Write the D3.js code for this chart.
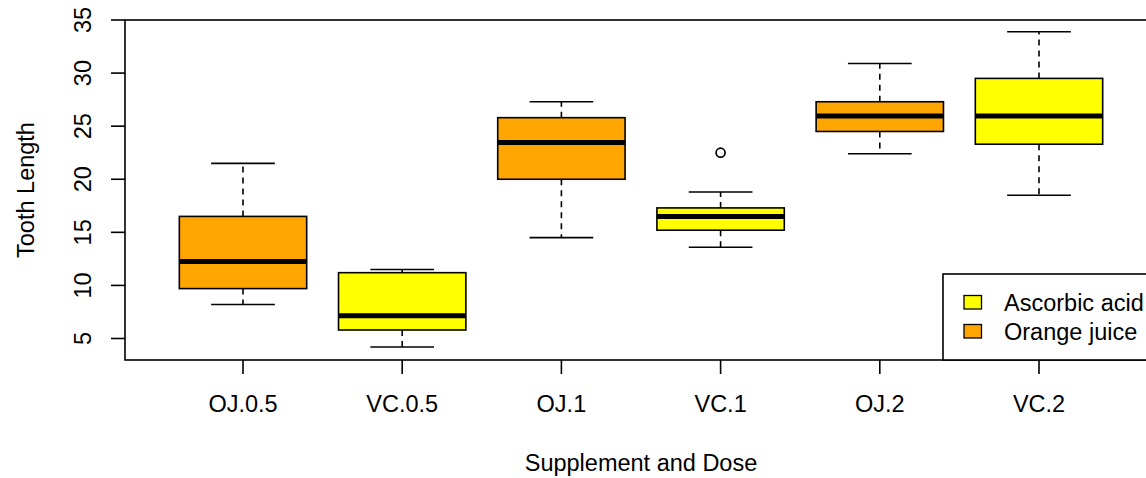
<!DOCTYPE html>
<html>
<head>
<meta charset="utf-8">
<script src="https://cdn.jsdelivr.net/npm/d3@7"></script>
<style>
  body { margin: 0; background: #fff; }
  svg { display: block; font-family: "Liberation Sans", Arial, sans-serif; }
</style>
</head>
<body>
<svg id="chart" width="1146" height="478"></svg>
<script>
// ToothGrowth five-number summaries, one box per group
const groups = ["OJ.0.5", "VC.0.5", "OJ.1", "VC.1", "OJ.2", "VC.2"];
const supp = ["OJ", "VC", "OJ", "VC", "OJ", "VC"];
const lowWhisker = [8.2, 4.2, 14.5, 13.6, 22.4, 18.5];
const lowerHinge = [9.7, 5.8, 20.0, 15.2, 24.5, 23.3];
const medians = [12.25, 7.15, 23.45, 16.5, 25.95, 25.95];
const upperHinge = [16.5, 11.2, 25.8, 17.3, 27.3, 29.5];
const highWhisker = [21.5, 11.5, 27.3, 18.8, 30.9, 33.9];
const outliers = [{ group: "VC.1", value: 22.5 }];

const yTicks = [5, 10, 15, 20, 25, 30, 35];
const legendLabels = ["Ascorbic acid", "Orange juice"];
const legendKeys = ["VC", "OJ"];
const suppColor = { OJ: "#ffa500", VC: "#ffff00" };

const svg = d3.select("#chart");
const plot = { left: 125, right: 1157, top: 20, bottom: 360 };
const fs = 23.5;

// group index 1..6 -> pixel
const x = d3.scaleLinear().domain([1, 6]).range([243, 1039]);
const y = d3.scaleLinear().domain([5, 35]).range([338.5, 20]);
const unit = x(2) - x(1);
const boxW = 0.8 * unit, capW = 0.4 * unit;

const boxes = groups.map((g, i) => ({
  name: g, supp: supp[i], pos: i + 1,
  lo: lowWhisker[i], q1: lowerHinge[i], med: medians[i], q3: upperHinge[i], hi: highWhisker[i]
}));

const gBox = svg.append("g")
  .selectAll("g")
  .data(boxes)
  .join("g");

// whiskers (dashed) and staples
gBox.append("line")
  .attr("x1", d => x(d.pos)).attr("x2", d => x(d.pos))
  .attr("y1", d => y(d.q3)).attr("y2", d => y(d.hi))
  .attr("stroke", "#000").attr("stroke-width", 1.6).attr("stroke-dasharray", "6,5");
gBox.append("line")
  .attr("x1", d => x(d.pos)).attr("x2", d => x(d.pos))
  .attr("y1", d => y(d.q1)).attr("y2", d => y(d.lo))
  .attr("stroke", "#000").attr("stroke-width", 1.6).attr("stroke-dasharray", "6,5");
gBox.append("line")
  .attr("x1", d => x(d.pos) - capW / 2).attr("x2", d => x(d.pos) + capW / 2)
  .attr("y1", d => y(d.hi)).attr("y2", d => y(d.hi))
  .attr("stroke", "#000").attr("stroke-width", 1.6);
gBox.append("line")
  .attr("x1", d => x(d.pos) - capW / 2).attr("x2", d => x(d.pos) + capW / 2)
  .attr("y1", d => y(d.lo)).attr("y2", d => y(d.lo))
  .attr("stroke", "#000").attr("stroke-width", 1.6);

// box
gBox.append("rect")
  .attr("x", d => x(d.pos) - boxW / 2)
  .attr("width", boxW)
  .attr("y", d => y(d.q3))
  .attr("height", d => y(d.q1) - y(d.q3))
  .attr("fill", d => suppColor[d.supp])
  .attr("stroke", "#000").attr("stroke-width", 1.6);

// median
gBox.append("line")
  .attr("x1", d => x(d.pos) - boxW / 2).attr("x2", d => x(d.pos) + boxW / 2)
  .attr("y1", d => y(d.med)).attr("y2", d => y(d.med))
  .attr("stroke", "#000").attr("stroke-width", 5);

// outliers
svg.append("g").selectAll("circle")
  .data(outliers)
  .join("circle")
  .attr("cx", d => x(groups.indexOf(d.group) + 1))
  .attr("cy", d => y(d.value))
  .attr("r", 4.5)
  .attr("fill", "none").attr("stroke", "#000").attr("stroke-width", 1.7);

// plot frame
svg.append("rect")
  .attr("x", plot.left).attr("y", plot.top)
  .attr("width", plot.right - plot.left).attr("height", plot.bottom - plot.top)
  .attr("fill", "none").attr("stroke", "#000").attr("stroke-width", 1.6);

// y axis
const yAxis = svg.append("g");
yAxis.selectAll("line.tick")
  .data(yTicks).join("line")
  .attr("x1", plot.left - 14).attr("x2", plot.left)
  .attr("y1", d => y(d)).attr("y2", d => y(d))
  .attr("stroke", "#000").attr("stroke-width", 1.6);
yAxis.selectAll("text")
  .data(yTicks).join("text")
  .attr("transform", d => `translate(91,${y(d)}) rotate(-90)`)
  .attr("text-anchor", "middle")
  .attr("font-size", fs)
  .text(d => d);

// x axis
const xAxis = svg.append("g");
xAxis.selectAll("line")
  .data(boxes).join("line")
  .attr("x1", d => x(d.pos)).attr("x2", d => x(d.pos))
  .attr("y1", plot.bottom).attr("y2", plot.bottom + 14)
  .attr("stroke", "#000").attr("stroke-width", 1.6);
xAxis.selectAll("text")
  .data(boxes).join("text")
  .attr("x", d => x(d.pos)).attr("y", 412)
  .attr("text-anchor", "middle")
  .attr("font-size", fs)
  .text(d => d.name);

// axis titles
svg.append("text")
  .attr("x", (plot.left + plot.right) / 2).attr("y", 471)
  .attr("text-anchor", "middle").attr("font-size", fs)
  .text("Supplement and Dose");
svg.append("text")
  .attr("transform", `translate(34,${(plot.top + plot.bottom) / 2}) rotate(-90)`)
  .attr("text-anchor", "middle").attr("font-size", fs)
  .text("Tooth Length");

// legend (bottom right, touches plot frame)
const legend = svg.append("g");
legend.append("rect")
  .attr("x", 943).attr("y", 274)
  .attr("width", plot.right - 943).attr("height", plot.bottom - 274)
  .attr("fill", "#fff").attr("stroke", "#000").attr("stroke-width", 1.6);
const legendRows = legend.selectAll("g")
  .data(legendLabels)
  .join("g")
  .attr("transform", (d, i) => `translate(0,${302 + i * 29})`);
legendRows.append("rect")
  .attr("x", 964).attr("y", -6.5)
  .attr("width", 17.5).attr("height", 13.5)
  .attr("fill", (d, i) => suppColor[legendKeys[i]])
  .attr("stroke", "#000").attr("stroke-width", 1.3);
legendRows.append("text")
  .attr("x", 1004).attr("y", 8.5)
  .attr("font-size", fs)
  .text(d => d);
</script>
</body>
</html>
